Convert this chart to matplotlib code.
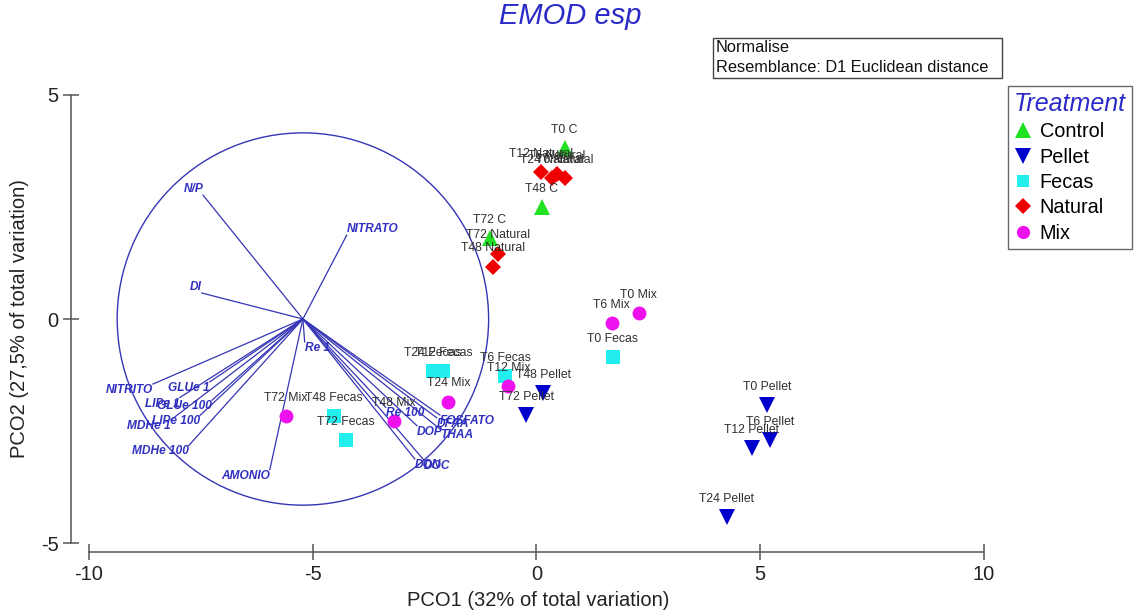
import matplotlib
matplotlib.use("Agg")
import matplotlib.pyplot as plt
from matplotlib.patches import Circle, Rectangle
from matplotlib.lines import Line2D

plt.rcParams['font.family'] = ['Liberation Sans', 'DejaVu Sans']
plt.rcParams['axes.unicode_minus'] = False

# ---------------- data ----------------
control_names = ['T0 C', 'T48 C', 'T72 C']
control_x = [0.63, 0.12, -1.05]
control_y = [3.81, 2.50, 1.80]

pellet_names = ['T0 Pellet', 'T6 Pellet', 'T12 Pellet', 'T24 Pellet', 'T48 Pellet', 'T72 Pellet']
pellet_x = [5.16, 5.22, 4.81, 4.25, 0.15, -0.23]
pellet_y = [-1.92, -2.70, -2.88, -4.41, -1.64, -2.14]

fecas_names = ['T0 Fecas', 'T6 Fecas', 'T12 Fecas', 'T24 Fecas', 'T48 Fecas', 'T72 Fecas']
fecas_x = [1.70, -0.70, -2.08, -2.32, -4.53, -4.26]
fecas_y = [-0.85, -1.27, -1.17, -1.15, -2.16, -2.70]

natural_names = ['T12 Natural', 'T24 Natural', 'T6 Natural', 'T0 Natural', 'T72 Natural', 'T48 Natural']
natural_x = [0.10, 0.35, 0.46, 0.64, -0.85, -0.97]
natural_y = [3.28, 3.14, 3.23, 3.14, 1.46, 1.17]

mix_names = ['T0 Mix', 'T6 Mix', 'T12 Mix', 'T24 Mix', 'T48 Mix', 'T72 Mix']
mix_x = [2.28, 1.68, -0.63, -1.97, -3.18, -5.60]
mix_y = [0.13, -0.08, -1.49, -1.84, -2.27, -2.16]

# vector overlay (PRIMER-style correlation circle)
circle_center = (-5.22, 0.0)
circle_radius = 4.15
vec_names = ['N/P', 'NITRATO', 'DI', 'Re 1', 'NITRITO', 'GLUe 1', 'LIPe 1', 'GLUe 100',
             'LIPe 100', 'MDHe 1', 'MDHe 100', 'AMONIO', 'Re 100', 'DOP', 'DFAA',
             'FOSFATO', 'THAA', 'DON', 'DOC']
vec_dx = [-2.23, 0.98, -2.26, 0.04, -3.35, -2.08, -2.75, -2.03,
          -2.30, -2.95, -2.55, -0.74, 1.85, 2.55, 2.99,
          3.06, 3.06, 2.50, 2.70]
vec_dy = [2.76, 1.87, 0.58, -0.51, -1.45, -1.40, -1.75, -1.81,
          -2.15, -2.25, -2.82, -3.36, -1.97, -2.38, -2.20,
          -2.14, -2.45, -3.12, -3.14]

groups = [
    ('Control', control_names, control_x, control_y, '^', '#22e022', 12),
    ('Pellet', pellet_names, pellet_x, pellet_y, 'v', '#0000cc', 12),
    ('Fecas', fecas_names, fecas_x, fecas_y, 's', '#22eeee', 9.5),
    ('Natural', natural_names, natural_x, natural_y, 'D', '#ee0000', 8.2),
    ('Mix', mix_names, mix_x, mix_y, 'o', '#ee11ee', 10),
]

# ---------------- figure ----------------
W, H = 1138, 615
fig = plt.figure(figsize=(W / 100, H / 100), dpi=100)
ax = fig.add_axes([60 / W, 55 / H, 940 / W, 480 / H])
ax.set_xlim(-10.648, 10.358)
ax.set_ylim(-5.373, 5.329)

vec_col = '#3535b5'
label_col = '#3030c0'

# circle and vectors
ax.add_patch(Circle(circle_center, circle_radius, fill=False, ec=vec_col, lw=1.0))
cx, cy = circle_center
for name, dx, dy in zip(vec_names, vec_dx, vec_dy):
    ax.plot([cx, cx + dx], [cy, cy + dy], color=vec_col, lw=0.9)
    ha = 'left' if dx > 0 else 'right'
    va = 'bottom' if dy > 0 else 'top'
    ax.annotate(name, (cx + dx, cy + dy), xytext=(0, 0), textcoords='offset points',
                ha=ha, va=va, fontsize=8.6, fontweight='bold', fontstyle='italic',
                color=label_col)

# points
for gname, names, xs, ys, mk, col, ms in groups:
    ax.plot(xs, ys, linestyle='none', marker=mk, color=col, markersize=ms,
            markeredgewidth=0, label=gname)
    for n, x, y in zip(names, xs, ys):
        ax.annotate(n, (x, y), xytext=(0, 13), textcoords='offset points',
                    ha='center', va='center', fontsize=8.8, color='#303030')

# axes styling (PRIMER-like offset axes)
for s in ['top', 'right']:
    ax.spines[s].set_visible(False)
ax.spines['left'].set_position(('data', -10.40))
ax.spines['left'].set_bounds(-5, 5)
ax.spines['bottom'].set_position(('data', -5.195))
ax.spines['bottom'].set_bounds(-10, 10)
for s in ['left', 'bottom']:
    ax.spines[s].set_color('#555555')
    ax.spines[s].set_linewidth(1.1)
ax.set_xticks([-10, -5, 0, 5, 10])
ax.set_yticks([-5, 0, 5])
ax.tick_params(direction='inout', length=12, width=1.1, color='#555555',
               labelsize=14.5, labelcolor='#222222', pad=3)

fig.text(538 / W, 1 - 600 / H, 'PCO1 (32% of total variation)', ha='center', va='center',
         fontsize=14.5, color='#222222')
fig.text(20 / W, 1 - 319 / H, 'PCO2 (27,5% of total variation)', ha='center', va='center',
         rotation=90, fontsize=14.5, color='#222222')

# title
fig.text(570 / W, 1 - 16 / H, 'EMOD esp', ha='center', va='center', fontsize=21,
         fontstyle='italic', color='#2a2ac8')

# info box
fig.patches.append(Rectangle((713 / W, 1 - 78 / H), 289 / W, 40 / H, transform=fig.transFigure,
                             fill=False, ec='#444444', lw=1.0))
fig.text(716 / W, 1 - 47 / H, 'Normalise', ha='left', va='center', fontsize=11.8, color='#111111')
fig.text(716 / W, 1 - 68 / H, 'Resemblance: D1 Euclidean distance', ha='left', va='center',
         fontsize=11.8, color='#111111')

# legend
handles = [Line2D([], [], linestyle='none', marker=mk, color=col, markersize=ms * 0.95,
                  markeredgewidth=0) for _, _, _, _, mk, col, ms in groups]
labels = [g[0] for g in groups]
leg = fig.legend(handles, labels, loc='upper left', bbox_to_anchor=(1008 / W, 1 - 86 / H),
                 frameon=True, fancybox=False, edgecolor='#444444', fontsize=14.3,
                 title='Treatment', handlelength=0.9, handletextpad=0.4,
                 labelspacing=0.32, borderpad=0.3, borderaxespad=0)
leg.get_frame().set_linewidth(1.0)
leg._legend_box.align = 'left'
t = leg.get_title()
t.set_fontsize(18)
t.set_fontstyle('italic')
t.set_color('#2a2ac8')

fig.savefig('out.png', dpi=100)
